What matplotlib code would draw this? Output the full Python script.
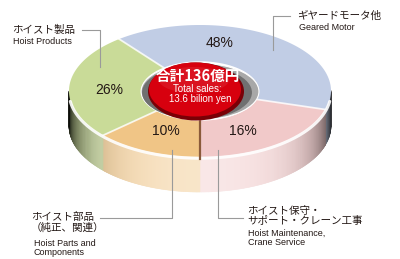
import numpy as np
import matplotlib
matplotlib.use("Agg")
import matplotlib.pyplot as plt
from matplotlib.patches import Polygon, Ellipse
from matplotlib.collections import PolyCollection

# ---- data (clockwise from the top-left boundary) ----
shares = [48, 16, 10, 26]
pct_labels = ["48%", "16%", "10%", "26%"]
jp_names = ["ギヤードモータ他", "ホイスト保守・\nサポート・クレーン工事",
            "ホイスト部品\n（純正、関連）", "ホイスト製品"]
en_names = ["Geared Motor", "Hoist Maintenance,\nCrane Service",
            "Hoist Parts and\nComponents", "Hoist Products"]
face_colors = ["#c1cde5", "#f1c9c9", "#f0c586", "#c9db98"]
total_jp = "合計136億円"
total_en = ["Total sales:", "13.6 bilion yen"]

# ---- layout (pixel coords, y down) ----
CX, CY, A, B, T = 200, 91, 131, 66, 35
R_IN = 0.45
START = 140.4      # true angle of first boundary
BETA = 0.3         # fake perspective: far side squeezed
pct_pos = [(220, 43), (243, 131), (166, 131), (109, 90)]
# (jp x, jp top, en x, en top)
name_pos = [(297, 11, 299, 23), (247, 206, 248, 229),
            (31, 212, 34, 239), (12, 25, 13, 37.5)]
leaders = [[(273, 50), (273, 16), (290, 16)],
           [(218, 150), (218, 218), (243, 218)],
           [(172, 150), (172, 218), (100, 218)],
           [(100, 67), (100, 30), (82, 30)]]

JP = ["Noto Sans CJK JP", "DejaVu Sans"]
EN = ["Liberation Sans", "DejaVu Sans"]
TXT = "#231815"


def warp(theta_deg):
    t = np.radians(theta_deg)
    s, c = np.sin(t), np.cos(t)
    d = 1 + BETA * s
    return np.unwrap(np.arctan2((s + BETA) / d, c * np.sqrt(1 - BETA ** 2) / d))


def xy(phi, r=1.0, dz=0.0):
    return CX + r * A * np.cos(phi), CY - r * B * np.sin(phi) + dz


def shade(rgb, phi):
    f = max(0.0, -np.sin(phi))
    dark = (1 - f) ** 1.8 * 0.95
    light = f ** 2 * 0.55
    c = np.array(rgb) * (1 - dark)
    return tuple(c + (1 - c) * light)


fig = plt.figure(figsize=(4, 2.59), dpi=100)
ax = fig.add_axes([0, 0, 1, 1])
ax.set_xlim(0, 400)
ax.set_ylim(259, 0)
ax.axis("off")

bounds = START - np.cumsum([0] + shares) * 3.6
arcs = [warp(np.linspace(bounds[i], bounds[i + 1], 160)) for i in range(len(shares))]

# side wall (front half only)
quads, cols = [], []
for arc, fc in zip(arcs, face_colors):
    rgb = matplotlib.colors.to_rgb(fc)
    for p0, p1 in zip(arc[:-1], arc[1:]):
        pm = (p0 + p1) / 2
        if np.sin(pm) >= 0:
            continue
        x0, y0 = xy(p0)
        x1, y1 = xy(p1)
        quads.append([(x0, y0), (x1, y1), (x1, y1 + T), (x0, y0 + T)])
        cols.append(shade(rgb, pm))
ax.add_collection(PolyCollection(quads, facecolors=cols, edgecolors=cols,
                                 linewidths=0.4, zorder=1))

# top faces
for arc, fc in zip(arcs, face_colors):
    ox, oy = xy(arc)
    ix, iy = xy(arc[::-1], R_IN)
    pts = np.column_stack([np.r_[ox, ix], np.r_[oy, iy]])
    ax.add_patch(Polygon(pts, closed=True, fc=fc, ec="none", zorder=2))

# highlight along front rim
rim = np.radians(np.linspace(188, 352, 200))
rx, ry = xy(rim, 1.0, 1.2)
ax.plot(rx, ry, color="white", lw=2.2, alpha=0.9, zorder=3, solid_capstyle="round")

# slice separators
for b in bounds[:-1]:
    phi = warp(np.array([b]))[0]
    x0, y0 = xy(phi, R_IN)
    x1, y1 = xy(phi, 1.0)
    if abs(np.sin(phi) + 1) < 0.02:
        ax.plot([x0, x1], [y0, y1 + 2], color="#8a5a3a", lw=1.6, zorder=3)
    else:
        ax.plot([x0, x1], [y0, y1], color="white", lw=1.3, alpha=0.8, zorder=3)

# hole and red lens
ax.add_patch(Ellipse((CX, CY + 0.5), 2 * R_IN * A, 2 * R_IN * B - 3, fc="#a8a8a8",
                     ec="white", lw=0.8, zorder=4))
ax.add_patch(Ellipse((CX - 3, CY + 1.5), 2 * R_IN * A - 8, 2 * R_IN * B - 6,
                     fc="#707070", ec="none", zorder=4))
ax.add_patch(Ellipse((196, 91.5), 96, 58, fc="#7a0006", ec="none", zorder=5))
ax.add_patch(Ellipse((195, 89.5), 92, 54, fc="#d7000e", ec="none", zorder=5))
ax.add_patch(Ellipse((194, 80), 70, 26, fc="white", alpha=0.08, ec="none", zorder=5))

ax.text(198, 76, total_jp, family=JP, fontsize=10.5, weight="bold", color="white",
        ha="center", va="center", zorder=6)
ax.text(197, 89.5, total_en[0], family=EN, fontsize=7, color="white",
        ha="center", va="center", zorder=6)
ax.text(200, 99, total_en[1], family=EN, fontsize=7, color="white",
        ha="center", va="center", zorder=6)

# percentage labels
for lab, (x, y) in zip(pct_labels, pct_pos):
    ax.text(x, y, lab, family=EN, fontsize=10, color=TXT,
            ha="center", va="center", zorder=6)

# leader lines
for pts in leaders:
    xs, ys = zip(*pts)
    ax.plot(xs, ys, color="#9a9a9a", lw=0.8, zorder=6)

# category names
for jp, en, (jx, jy, ex, ey) in zip(jp_names, en_names, name_pos):
    ax.text(jx, jy, jp, family=JP, fontsize=7.6, color=TXT, ha="left", va="top",
            linespacing=1.05, zorder=6)
    ax.text(ex, ey, en, family=EN, fontsize=6.5, color=TXT, ha="left", va="top",
            linespacing=1.0, zorder=6)

fig.savefig("out.png", dpi=100)
